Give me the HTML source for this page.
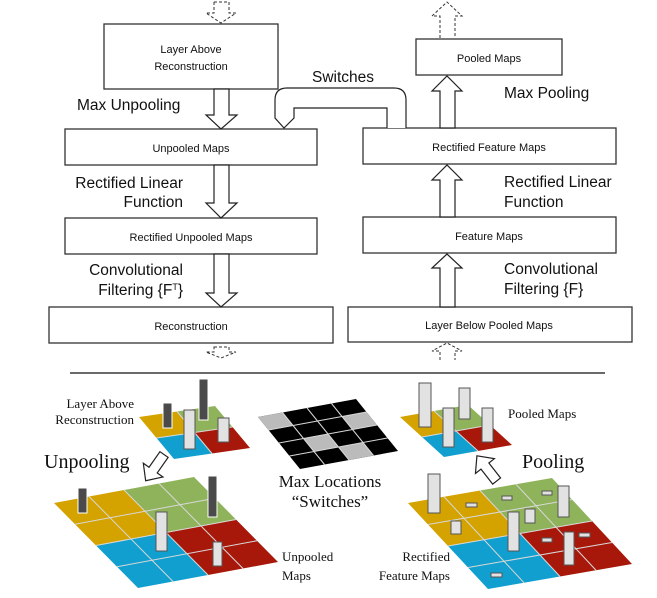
<!DOCTYPE html>
<html><head><meta charset="utf-8"><style>
html,body{margin:0;padding:0;background:#fff}
svg{display:block}
.bx{fill:#fff;stroke:#333;stroke-width:1.3}
.t{font-family:"Liberation Sans",sans-serif;font-size:11px;fill:#111}
.l{font-family:"Liberation Sans",sans-serif;font-size:15.5px;fill:#111}
.s{font-family:"Liberation Serif",serif;fill:#111}
.ar{fill:#fff;stroke:#222;stroke-width:1.2}
.da{fill:none;stroke:#333;stroke-width:1;stroke-dasharray:3,2}
.g line{stroke:#d8d8d8;stroke-width:1;vector-effect:non-scaling-stroke}
.dk{fill:#4a4a4a;stroke:#fff;stroke-width:1}
.lt{fill:#e2e2e2;stroke:#555;stroke-width:1}
</style></head><body>
<svg width="657" height="598" viewBox="0 0 657 598" xmlns="http://www.w3.org/2000/svg">
<path class="da" d="M214,2 L229,2 L229,13 L236,13 L221,23 L206,13 L214,13 Z"/>
<path class="da" d="M440,38 L440,16 L432,16 L447,2 L462,16 L455,16 L455,38"/>
<path class="da" d="M214,347 L229,347 L229,352 L236,352 L221,358 L206,352 L214,352 Z"/>
<path class="da" d="M440,360 L440,351 L432,351 L447,343 L462,351 L455,351 L455,360"/>
<rect class="bx" x="104" y="24" width="174" height="65"/>
<text class="t" x="191" y="53" text-anchor="middle">Layer Above</text>
<text class="t" x="191" y="70" text-anchor="middle">Reconstruction</text>
<rect class="bx" x="65" y="129" width="252" height="36"/>
<text class="t" x="191" y="152" text-anchor="middle">Unpooled Maps</text>
<rect class="bx" x="65" y="218" width="252" height="36"/>
<text class="t" x="191" y="241" text-anchor="middle">Rectified Unpooled Maps</text>
<rect class="bx" x="49" y="307" width="284" height="36"/>
<text class="t" x="191" y="330" text-anchor="middle">Reconstruction</text>
<rect class="bx" x="416" y="39" width="146" height="36"/>
<text class="t" x="489" y="62" text-anchor="middle">Pooled Maps</text>
<rect class="bx" x="363" y="128" width="253" height="36"/>
<text class="t" x="489" y="151" text-anchor="middle">Rectified Feature Maps</text>
<rect class="bx" x="363" y="217" width="253" height="36"/>
<text class="t" x="489" y="240" text-anchor="middle">Feature Maps</text>
<rect class="bx" x="348" y="307" width="284" height="35"/>
<text class="t" x="489" y="329" text-anchor="middle">Layer Below Pooled Maps</text>
<path class="ar" d="M214,89 L229,89 L229,115 L237,115 L221,129 L206,115 L214,115 Z"/>
<path class="ar" d="M214,165 L229,165 L229,203 L237,203 L221,218 L206,203 L214,203 Z"/>
<path class="ar" d="M214,254 L229,254 L229,293 L237,293 L221,307 L206,293 L214,293 Z"/>
<path class="ar" d="M440,128 L440,91 L432,91 L447,76 L462,91 L455,91 L455,128 Z"/>
<path class="ar" d="M440,217 L440,180 L432,180 L447,165 L462,180 L455,180 L455,217 Z"/>
<path class="ar" d="M440,307 L440,268 L432,268 L447,254 L462,268 L455,268 L455,307 Z"/>
<path class="ar" d="M406,128 L406,100 Q406,88 394,88 L287,88 Q275,88 275,100 L275,118 L284,128 L294,118 L294,108 L387,108 L387,128"/>
<text class="l" x="312" y="82">Switches</text>
<text class="l" x="77" y="110">Max Unpooling</text>
<text class="l" x="183" y="188" text-anchor="end">Rectified Linear</text>
<text class="l" x="183" y="207" text-anchor="end">Function</text>
<text class="l" x="183" y="275" text-anchor="end">Convolutional</text>
<text class="l" x="183" y="295" text-anchor="end">Filtering {F<tspan font-size="9" dy="-5">T</tspan><tspan dy="5">}</tspan></text>
<text class="l" x="504" y="98">Max Pooling</text>
<text class="l" x="504" y="187">Rectified Linear</text>
<text class="l" x="504" y="207">Function</text>
<text class="l" x="504" y="274">Convolutional</text>
<text class="l" x="504" y="294">Filtering {F}</text>
<line x1="70" y1="373" x2="605" y2="373" stroke="#111" stroke-width="1.3"/>

<g class="g" transform="matrix(76,-11,35,42,139,417)">
<rect x="0" y="0" width=".5" height=".5" fill="#d4a300"/><rect x=".5" y="0" width=".5" height=".5" fill="#8fb35a"/>
<rect x="0" y=".5" width=".5" height=".5" fill="#109fcf"/><rect x=".5" y=".5" width=".5" height=".5" fill="#a8180a"/>
<line x1=".5" y1="0" x2=".5" y2="1"/><line x1="0" y1=".5" x2="1" y2=".5"/>
</g>
<rect class="dk" x="163" y="403" width="9" height="25"/>
<rect class="dk" x="199" y="379" width="9" height="41"/>
<rect class="lt" x="184" y="410" width="11" height="39"/>
<rect class="lt" x="218" y="418" width="11" height="24"/>

<g class="g" transform="matrix(98,-18,42,52,258,417)">
<rect x="0" y="0" width="1" height="1" fill="#000"/>
<rect x="0" y="0" width=".25" height=".25" fill="#bbb"/>
<rect x=".75" y=".25" width=".25" height=".25" fill="#bbb"/>
<rect x=".25" y=".5" width=".25" height=".25" fill="#bbb"/>
<rect x=".5" y=".75" width=".25" height=".25" fill="#bbb"/>
<line x1=".25" y1="0" x2=".25" y2="1"/><line x1=".5" y1="0" x2=".5" y2="1"/><line x1=".75" y1="0" x2=".75" y2="1"/>
<line x1="0" y1=".25" x2="1" y2=".25"/><line x1="0" y1=".5" x2="1" y2=".5"/><line x1="0" y1=".75" x2="1" y2=".75"/>
</g>

<g class="g" transform="matrix(68,-12,44,40,400,417)">
<rect x="0" y="0" width=".5" height=".5" fill="#d4a300"/><rect x=".5" y="0" width=".5" height=".5" fill="#8fb35a"/>
<rect x="0" y=".5" width=".5" height=".5" fill="#109fcf"/><rect x=".5" y=".5" width=".5" height=".5" fill="#a8180a"/>
<line x1=".5" y1="0" x2=".5" y2="1"/><line x1="0" y1=".5" x2="1" y2=".5"/>
</g>
<rect class="lt" x="419" y="383" width="12" height="44"/>
<rect class="lt" x="459" y="388" width="11" height="31"/>
<rect class="lt" x="443" y="408" width="11" height="39"/>
<rect class="lt" x="482" y="408" width="11" height="34"/>

<g class="g" transform="matrix(140,-26,84,85,54,503)">
<rect x="0" y="0" width=".5" height=".5" fill="#d4a300"/><rect x=".5" y="0" width=".5" height=".5" fill="#8fb35a"/>
<rect x="0" y=".5" width=".5" height=".5" fill="#109fcf"/><rect x=".5" y=".5" width=".5" height=".5" fill="#a8180a"/>
<line x1=".25" y1="0" x2=".25" y2="1"/><line x1=".5" y1="0" x2=".5" y2="1"/><line x1=".75" y1="0" x2=".75" y2="1"/>
<line x1="0" y1=".25" x2="1" y2=".25"/><line x1="0" y1=".5" x2="1" y2=".5"/><line x1="0" y1=".75" x2="1" y2=".75"/>
</g>
<rect class="dk" x="78" y="488" width="9" height="25"/>
<rect class="dk" x="208" y="476" width="9" height="41"/>
<rect class="lt" x="156" y="512" width="11" height="39"/>
<rect class="lt" x="213" y="542" width="9" height="24"/>

<g class="g" transform="matrix(144,-25,80,86,408,503)">
<rect x="0" y="0" width=".5" height=".5" fill="#d4a300"/><rect x=".5" y="0" width=".5" height=".5" fill="#8fb35a"/>
<rect x="0" y=".5" width=".5" height=".5" fill="#109fcf"/><rect x=".5" y=".5" width=".5" height=".5" fill="#a8180a"/>
<line x1=".25" y1="0" x2=".25" y2="1"/><line x1=".5" y1="0" x2=".5" y2="1"/><line x1=".75" y1="0" x2=".75" y2="1"/>
<line x1="0" y1=".25" x2="1" y2=".25"/><line x1="0" y1=".5" x2="1" y2=".5"/><line x1="0" y1=".75" x2="1" y2=".75"/>
</g>
<rect class="lt" x="428" y="474" width="12" height="39"/>
<rect class="lt" x="558" y="486" width="11" height="31"/>
<rect class="lt" x="508" y="512" width="11" height="39"/>
<rect class="lt" x="525" y="509" width="10" height="14"/>
<rect class="lt" x="451" y="521" width="10" height="13"/>
<rect class="lt" x="564" y="532" width="10" height="33"/>
<rect class="lt" x="466" y="503" width="11" height="4"/>
<rect class="lt" x="502" y="496" width="10" height="4"/>
<rect class="lt" x="542" y="491" width="10" height="4"/>
<rect class="lt" x="542" y="538" width="10" height="4"/>
<rect class="lt" x="579" y="533" width="11" height="4"/>
<rect class="lt" x="491" y="573" width="11" height="4"/>

<g transform="translate(156,466) rotate(125)">
<path class="ar" d="M-14,-5 L5,-5 L5,-12 L18,0 L5,12 L5,5 L-14,5 Z"/>
</g>
<g transform="translate(488,470) rotate(-128)">
<path class="ar" d="M-14,-5 L5,-5 L5,-12 L18,0 L5,12 L5,5 L-14,5 Z"/>
</g>

<text class="s" x="134" y="408" text-anchor="end" font-size="13">Layer Above</text>
<text class="s" x="134" y="424" text-anchor="end" font-size="13">Reconstruction</text>
<text class="s" x="44" y="468" font-size="20">Unpooling</text>
<text class="s" x="330" y="487" text-anchor="middle" font-size="17">Max Locations</text>
<text class="s" x="330" y="507" text-anchor="middle" font-size="17">“Switches”</text>
<text class="s" x="508" y="418" font-size="13">Pooled Maps</text>
<text class="s" x="522" y="468" font-size="20">Pooling</text>
<text class="s" x="282" y="561" font-size="13">Unpooled</text>
<text class="s" x="282" y="580" font-size="13">Maps</text>
<text class="s" x="450" y="561" text-anchor="end" font-size="13">Rectified</text>
<text class="s" x="450" y="580" text-anchor="end" font-size="13">Feature Maps</text>
</svg>
</body></html>
